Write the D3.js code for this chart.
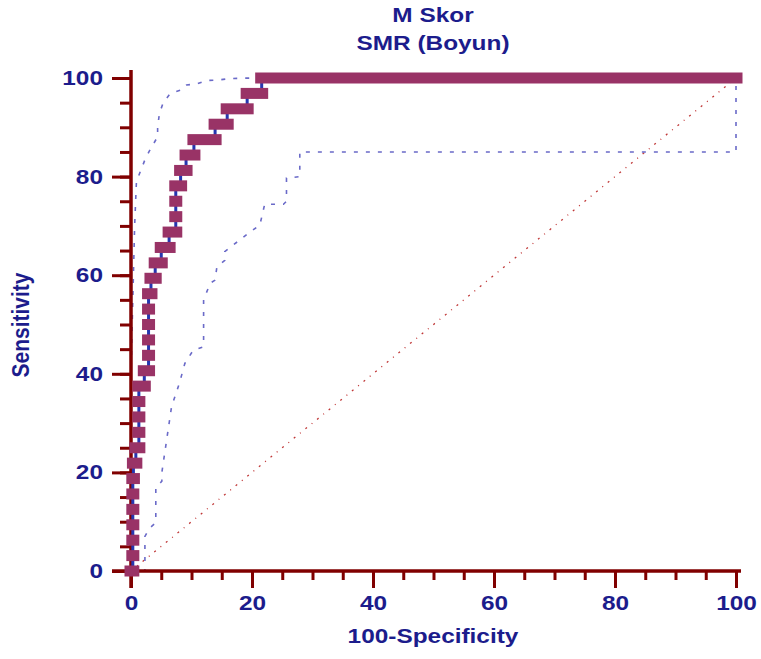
<!DOCTYPE html>
<html>
<head>
<meta charset="utf-8">
<script src="https://cdn.jsdelivr.net/npm/d3@7"></script>
<style>
  html, body { margin: 0; padding: 0; background: #fff; }
  svg { display: block; }
  text { font-family: "Liberation Sans", Arial, sans-serif; font-weight: bold; fill: #1c1c8c; }
</style>
</head>
<body>
<svg id="chart" width="761" height="659"></svg>
<script>
// ROC curve: fpr (100-Specificity) at which each sensitivity level is reached, in percent
const rocFpr = [0, 0.3, 0.3, 0.3, 0.3, 0.3, 0.3, 0.4, 0.8, 1.3, 1.3, 1.3, 1.3, 2.2, 2.9, 2.9, 2.9, 2.9, 2.9, 3.3, 4.0, 5.0, 6.3, 7.4, 7.4, 7.4, 8.2, 9.1, 10.4, 13.9, 15.9, 19.2, 21.6];
// sensitivity levels (k / 32 positives)
const rocSens = [0, 3.125, 6.25, 9.375, 12.5, 15.625, 18.75, 21.875, 25, 28.125, 31.25, 34.375, 37.5, 40.625, 43.75, 46.875, 50, 53.125, 56.25, 59.375, 62.5, 65.625, 68.75, 71.875, 75, 78.125, 81.25, 84.375, 87.5, 90.625, 93.75, 96.875, 100];

// 95% confidence bounds
const upperFpr  = [0, 0, 0.3, 0.6, 0.9, 2.3, 3.0, 4.4, 4.4, 4.7, 5.3, 6.5, 8.4, 9.2, 10.9, 12.5, 14.4, 16.4, 20.2];
const upperSens = [0, 40, 55, 70, 79, 83.4, 85.1, 88.1, 90.1, 92.8, 94.9, 96.9, 97.6, 98.6, 98.8, 99.5, 99.6, 99.9, 100];
const lowerFpr  = [0, 2.3, 2.3, 3.0, 4.1, 4.1, 5.1, 5.1, 6.7, 8.0, 8.9, 10.3, 12.0, 12.0, 13.1, 13.9, 14.2, 15.5, 15.5, 19.4, 21.3, 22.1, 25.2, 25.7, 25.7, 27.9, 27.9, 100, 100];
const lowerSens = [0, 0, 7, 8.6, 9.8, 17, 18.2, 20, 33.3, 38.1, 42.1, 44.8, 45.5, 55, 58.4, 59, 61.7, 63, 64.8, 68.5, 70.2, 74.4, 74.4, 75, 79.7, 80, 85, 85, 100];

// reference diagonal
const diagFpr = [0, 100];
const diagSens = [0, 100];

const majorTicks = [0, 20, 40, 60, 80, 100];
const minorTicks = d3.range(0, 101, 5);

const titleLines = ["M Skor", "SMR (Boyun)"];
const xTitle = "100-Specificity";
const yTitle = "Sensitivity";

const svg = d3.select("#chart");
const x = d3.scaleLinear().domain([0, 100]).range([131, 736]);
const y = d3.scaleLinear().domain([0, 100]).range([571, 78]);

const axisColor = "#800000";
const wide = 1.22; // horizontal stretch of the lettering

// titles
svg.selectAll("text.title").data(titleLines).join("text")
  .attr("class", "title")
  .attr("transform", (d, i) => `translate(433,${22 + i * 28}) scale(${wide},1)`)
  .attr("text-anchor", "middle")
  .style("font-size", "20px")
  .text(d => d);

// diagonal
svg.append("line")
  .attr("x1", x(diagFpr[0])).attr("y1", y(diagSens[0]))
  .attr("x2", x(diagFpr[1])).attr("y2", y(diagSens[1]))
  .attr("stroke", "#c03838").attr("stroke-width", 1.3)
  .attr("stroke-dasharray", "2,6,1,6");

// confidence bounds
const boundLine = d3.line().x(d => x(d[0])).y(d => y(d[1]));
[[upperFpr, upperSens], [lowerFpr, lowerSens]].forEach(([fx, sy]) => {
  svg.append("path")
    .attr("d", boundLine(fx.map((v, i) => [v, sy[i]])))
    .attr("fill", "none")
    .attr("stroke", "#6a6ac8").attr("stroke-width", 1.6)
    .attr("stroke-dasharray", "4,8");
});

// axes
const gx = svg.append("g").attr("transform", `translate(0,${y(0)})`);
gx.append("g").call(d3.axisBottom(x).tickValues(minorTicks).tickSize(9).tickFormat(""));
gx.append("g").attr("class", "major-x")
  .call(d3.axisBottom(x).tickValues(majorTicks).tickSize(17).tickPadding(8).tickFormat(d3.format("d")));
const gy = svg.append("g").attr("transform", `translate(${x(0)},0)`);
gy.append("g").call(d3.axisLeft(y).tickValues(minorTicks).tickSize(11).tickFormat(""));
gy.append("g").attr("class", "major-y")
  .call(d3.axisLeft(y).tickValues(majorTicks).tickSize(19).tickPadding(4).tickFormat(d3.format("d")));

svg.selectAll(".domain").remove();
svg.selectAll(".tick line").attr("stroke", axisColor).attr("stroke-width", 3);
svg.selectAll(".tick text")
  .style("font-size", "20px")
  .attr("fill", "#1c1c8c")
  .style("font-family", "\"Liberation Sans\", Arial, sans-serif")
  .style("font-weight", "bold")
  .attr("transform", `scale(${wide},1)`);

// axis lines
svg.append("line").attr("x1", x(0) - 19).attr("x2", x(100) + 5)
  .attr("y1", y(0)).attr("y2", y(0))
  .attr("stroke", axisColor).attr("stroke-width", 3.5);
svg.append("line").attr("x1", x(0)).attr("x2", x(0))
  .attr("y1", y(100) - 8).attr("y2", y(0) + 17)
  .attr("stroke", axisColor).attr("stroke-width", 3.5);

// ROC curve: blue risers under thick maroon steps
const pts = rocFpr.map((v, i) => ({ f: v, s: rocSens[i] }));
const risers = pts.slice(1).map((p, i) => ({ f: p.f, s0: pts[i].s, s1: p.s }));
svg.append("g").selectAll("line").data(risers).join("line")
  .attr("x1", d => x(d.f)).attr("x2", d => x(d.f))
  .attr("y1", d => y(d.s0)).attr("y2", d => y(d.s1))
  .attr("stroke", "#2636b0").attr("stroke-width", 3);

// each horizontal step runs from its riser to the next one (the last to 100)
const steps = pts.map((p, i) => ({ f0: p.f, f1: i < pts.length - 1 ? pts[i + 1].f : 100, s: p.s }));
const pad = 6.5, half = 5.5;
svg.append("g").selectAll("rect").data(steps).join("rect")
  .attr("x", d => x(d.f0) - pad)
  .attr("width", d => x(d.f1) - x(d.f0) + 2 * pad)
  .attr("y", d => y(d.s) - half)
  .attr("height", 2 * half)
  .attr("fill", "#993366");

// axis titles
svg.append("text")
  .attr("transform", `translate(433,643) scale(${wide},1)`)
  .attr("text-anchor", "middle")
  .style("font-size", "20px")
  .text(xTitle);
svg.append("text")
  .attr("transform", "translate(29,325) rotate(-90) scale(1.05,1.2)")
  .attr("text-anchor", "middle")
  .style("font-size", "20px")
  .text(yTitle);
</script>
</body>
</html>
